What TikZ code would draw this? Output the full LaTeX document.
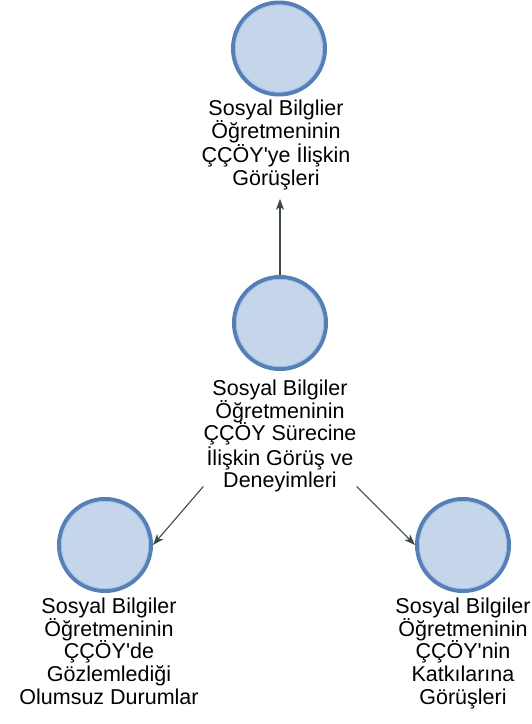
\documentclass[tikz,border=0pt]{standalone}
\usepackage{fontspec}
\newfontfamily\labfont{Liberation Sans}
\usetikzlibrary{arrows.meta}
\definecolor{discfill}{RGB}{197,213,234}
\definecolor{discrim}{RGB}{86,127,182}
\definecolor{discinner}{RGB}{160,192,232}
\definecolor{linkcol}{RGB}{58,74,70}
\tikzset{
  disc/.style={circle, minimum size=92pt, inner sep=0pt, outer sep=2pt,
    fill=discfill, draw=discrim, line width=4pt},
  caption/.style={align=center, inner sep=0pt, anchor=north,
    font=\labfont\fontsize{21.5}{22.6}\selectfont},
  link/.style={draw=linkcol, line width=1.1pt,
    -{Stealth[length=11pt,width=8pt,inset=3pt]}}
}
\begin{document}
\begin{tikzpicture}[x=1pt,y=-1pt]
  \useasboundingbox[fill=white] (0,0) rectangle (531,724);

  % topic circles
  \node[disc] (topc) at (279,48.5) {};
  \node[disc] (midc) at (280,323) {};
  \node[disc] (blc)  at (105,545) {};
  \node[disc] (brc)  at (463,545) {};
  % thin light inner ring of each circle
  \foreach \c in {topc,midc,blc,brc}
    \draw[discinner, line width=0.8pt] (\c.center) circle[radius=43.6pt];

  % captions
  \node[caption] (toptxt) at (276,100)
    {Sosyal Bilglier\\Öğretmeninin\\ÇÇÖY'ye İlişkin\\Görüşleri};
  \node[caption] (midtxt) at (280,380)
    {Sosyal Bilgiler\\Öğretmeninin\\ÇÇÖY Sürecine\\İlişkin Görüş ve\\Deneyimleri};
  \node[caption] (bltxt) at (109,598)
    {Sosyal Bilgiler\\Öğretmeninin\\ÇÇÖY'de\\Gözlemlediği\\Olumsuz Durumlar};
  \node[caption] (brtxt) at (463,598)
    {Sosyal Bilgiler\\Öğretmeninin\\ÇÇÖY'nin\\Katkılarına\\Görüşleri};

  % connectors
  \draw[link, shorten >=9pt] (midc.north) -- (midc.north |- toptxt.south);
  \draw[link] ([yshift=6pt]midtxt.south west) -- (blc.east);
  \draw[link] ([yshift=6pt]midtxt.south east) -- (brc.west);
\end{tikzpicture}
\end{document}
